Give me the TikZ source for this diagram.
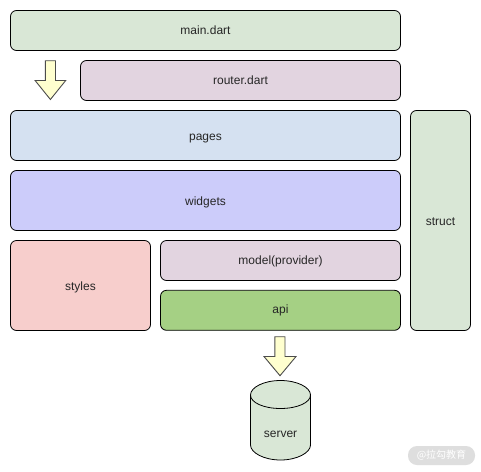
\documentclass[tikz,border=0pt]{standalone}
\usepackage{fontspec}
\setmainfont{Liberation Sans}
\newfontfamily\cjkfont{Noto Sans CJK SC}
\definecolor{cgreen}{HTML}{D9E7D6}
\definecolor{cmauve}{HTML}{E2D4E0}
\definecolor{cblue}{HTML}{D5E1F1}
\definecolor{cviolet}{HTML}{CCCCFA}
\definecolor{cpink}{HTML}{F7CECC}
\definecolor{capi}{HTML}{A5D084}
\definecolor{cyellow}{HTML}{FFFFCF}
\definecolor{cmark}{HTML}{DEDEDE}
\tikzset{
  labeltext/.style={font=\fontsize{12}{14}\selectfont,text=black!85,text height=11pt,text depth=2pt},
  block/.style={draw=black,line width=0.8pt,rounded corners=6pt,inner sep=0pt,labeltext},
  raised/.style={text height=9pt,text depth=2pt},
  blockarrow/.style={draw=black!70,line width=0.9pt,fill=cyellow,line join=miter},
}
\begin{document}
\begin{tikzpicture}[x=1pt,y=-1pt]
\useasboundingbox (0,0) rectangle (481,471);
\fill[white] (0,0) rectangle (481,471);
\node[block,raised,fill=cgreen,minimum width=390pt,minimum height=40pt] (main) at (205.5,30.5) {main.dart};
\node[block,raised,fill=cmauve,minimum width=320pt,minimum height=40pt] (router) at (240.5,80.5) {router.dart};
\node[block,fill=cblue,minimum width=390pt,minimum height=50pt] (pages) at (205.5,135.5) {pages};
\node[block,fill=cviolet,minimum width=390pt,minimum height=60pt] (widgets) at (205.5,200.5) {widgets};
\node[block,fill=cpink,minimum width=140pt,minimum height=90pt] (styles) at (80.5,285.5) {styles};
\node[block,raised,fill=cmauve,minimum width=240pt,minimum height=40pt] (model) at (280.5,260.5) {model(provider)};
\node[block,raised,fill=capi,minimum width=240pt,minimum height=40pt] (api) at (280.5,310.3) {api};
\node[block,fill=cgreen,minimum width=60pt,minimum height=220pt] (struct) at (440.5,220.5) {struct};
% block arrows
\draw[blockarrow] (45.3,60.7) -- (55.5,60.7) -- (55.5,80.5) -- (65.7,80.5) -- (50.4,99.5) -- (35.1,80.5) -- (45.3,80.5) -- cycle;
\draw[blockarrow] (274.8,336.7) -- (285,336.7) -- (285,356.5) -- (296,356.5) -- (280,375.7) -- (264,356.5) -- (274.8,356.5) -- cycle;
% server cylinder
\draw[line width=0.8pt,fill=cgreen] (250.5,395) .. controls (250.5,387.3) and (263.9,380.5) .. (280.5,380.5)
  .. controls (297.1,380.5) and (310.5,387.3) .. (310.5,395) -- (310.5,445)
  .. controls (310.5,452.7) and (297.1,460) .. (280.5,460)
  .. controls (263.9,460) and (250.5,452.7) .. (250.5,445) -- cycle;
\draw[line width=0.8pt] (250.5,395) .. controls (250.5,402.7) and (263.9,408.5) .. (280.5,408.5)
  .. controls (297.1,408.5) and (310.5,402.7) .. (310.5,395);
\node[labeltext] (server) at (280.5,432.5) {server};
\node[fill=cmark,rounded corners=9pt,minimum width=67pt,minimum height=19pt,inner sep=0pt,text=white,font=\fontsize{10}{12}\selectfont] (mark) at (441.5,455.5) {\cjkfont @拉勾教育};
\end{tikzpicture}
\end{document}
